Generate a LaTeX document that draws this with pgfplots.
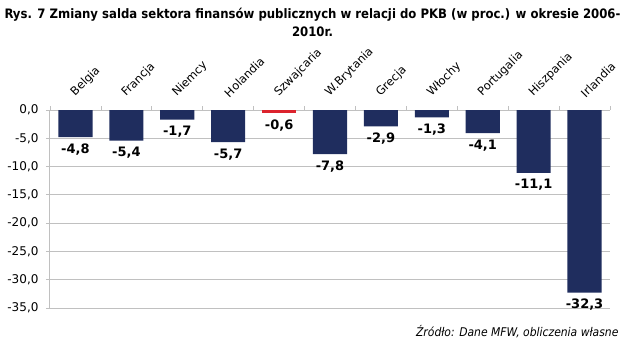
\documentclass[border=0pt]{standalone}
\usepackage{fontspec}
\setmainfont{DejaVu Sans}
\newfontfamily\condfont{DejaVu Sans Condensed}
\usepackage{pgfplots}
\pgfplotsset{compat=1.18}
\definecolor{navy}{RGB}{31,45,94}
\definecolor{redbar}{RGB}{220,35,45}
\definecolor{gridgray}{RGB}{192,192,192}
\begin{document}
\begin{tikzpicture}
\begin{axis}[
  scale only axis, width=560pt, height=198pt,
  xmin=-0.5, xmax=10.5, ymin=-35, ymax=0,
  axis x line*=top, axis y line*=left,
  axis line style={gridgray, line width=1pt, -},
  xtick={0,...,10},
  xticklabels={Belgia,Francja,Niemcy,Holandia,Szwajcaria,W.Brytania,Grecja,Włochy,Portugalia,Hiszpania,Irlandia},
  major x tick style={draw=none},
  minor xtick={-0.5,0.5,...,10.5},
  minor tick length=4pt,
  major tick length=4pt,
  tick style={gridgray, line width=0.8pt},
  tick align=outside,
  x tick label style={rotate=45, anchor=south west, font=\fontsize{11.5}{13}\selectfont, xshift=3pt, yshift=1pt},
  ytick={-35,-30,...,0},
  ymajorgrids, grid style={gridgray, line width=0.8pt},
  y tick label style={font=\fontsize{12}{14}\selectfont, xshift=-4pt},
  yticklabel style={/pgf/number format/.cd, use comma, fixed, fixed zerofill, precision=1, assume math mode=true},
  ybar, bar width=0.67, bar shift=0pt,
  nodes near coords,
  nodes near coords style={font=\bfseries\fontsize{13}{15}\selectfont, anchor=north, yshift=-3pt,
    /pgf/number format/.cd, use comma, fixed, fixed zerofill, precision=1, assume math mode=true},
  clip=false,
]
\addplot[fill=navy, draw=none] coordinates {(0,-4.8) (1,-5.4) (2,-1.7) (3,-5.7) (5,-7.8) (6,-2.9) (7,-1.3) (8,-4.1) (9,-11.1) (10,-32.3)};
\addplot[fill=redbar, draw=none] coordinates {(4,-0.6)};
\coordinate (SW) at (rel axis cs:0,0);
\end{axis}
\node[font=\condfont\bfseries\fontsize{13}{18}\selectfont, align=center] at ([shift={(262.5pt,286pt)}]SW) {Rys. 7 Zmiany salda sektora finansów publicznych w relacji do PKB (w proc.) w okresie 2006-\\2010r.};
\node[font=\condfont\itshape\fontsize{12}{14}\selectfont, anchor=east] at ([shift={(572pt,-24pt)}]SW) {Źródło: Dane MFW, obliczenia własne};
\pgfresetboundingbox
\path ([shift={(-50pt,-40pt)}]SW) rectangle ++(625pt,348pt);
\end{tikzpicture}
\end{document}
